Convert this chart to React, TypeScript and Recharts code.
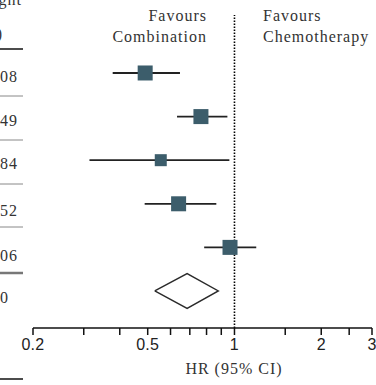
import React from 'react';
import { ComposedChart, XAxis, YAxis, Scatter, ReferenceLine } from 'recharts';

// Study rows (top to bottom)
const rowPos = [6, 5, 4, 3, 2];
const hrValues = [0.49, 0.765, 0.555, 0.64, 0.965];
const ciLow = [0.378, 0.632, 0.314, 0.488, 0.785];
const ciHigh = [0.647, 0.945, 0.96, 0.865, 1.19];
const weightLabels = ['20.08', '23.49', '10.84', '20.52', '23.06'];
const squareSizes = [15, 15, 12, 15, 15];

// Pooled estimate
const pooledPos = 1;
const pooled = { hr: 0.685, lo: 0.529, hi: 0.879 };
const totalLabel = '100';

const xTicks = [0.2, 0.3, 0.4, 0.5, 0.6, 0.7, 0.8, 0.9, 1, 1.5, 2, 2.5, 3];
const xTickLabels = [0.2, 0.5, 1, 2, 3];

const studies = rowPos.map((y, i) => ({
  x: hrValues[i],
  y,
  lo: ciLow[i],
  hi: ciHigh[i],
  size: squareSizes[i],
  w: weightLabels[i],
}));

const diamondHalf = 0.4;
const diamond = [
  { x: pooled.lo, y: pooledPos },
  { x: pooled.hr, y: pooledPos + diamondHalf },
  { x: pooled.hi, y: pooledPos },
  { x: pooled.hr, y: pooledPos - diamondHalf },
  { x: pooled.lo, y: pooledPos },
];

const SQ = '#3c5d6b';
const serif = '"Liberation Serif", "Times New Roman", serif';
const sans = '"Liberation Sans", Arial, sans-serif';

const Square = (props: any) => {
  const { cx, cy, payload } = props;
  const s = payload.size;
  return <rect x={cx - s / 2} y={cy - s / 2} width={s} height={s} fill={SQ} />;
};

const Tick = (props: any) => {
  const { x, y, payload } = props;
  if (!xTickLabels.includes(payload.value)) return <g />;
  return (
    <text x={x} y={y} dy={13} textAnchor="middle" fontFamily={sans} fontSize={16} fill="#222" letterSpacing={0.3}>
      {String(payload.value)}
    </text>
  );
};

export default function App() {
  const W = 376;
  const H = 385;
  const baselines = [82, 126, 169, 216, 261];
  return (
    <div style={{ position: 'absolute', left: 0, top: 0, width: W, height: H, background: '#fff' }}>
      <ComposedChart width={W} height={H} margin={{ top: 0, right: 4, bottom: 0, left: 33 }}>
        <XAxis
          type="number"
          dataKey="x"
          scale="log"
          domain={[0.2, 3]}
          allowDataOverflow
          ticks={xTicks}
          interval={0}
          tick={<Tick />}
          tickSize={7}
          tickLine={{ stroke: '#111', strokeWidth: 1.5 }}
          axisLine={{ stroke: '#111', strokeWidth: 1.5 }}
          height={57}
        />
        <YAxis type="number" dataKey="y" domain={[0.151, 7.674]} hide allowDataOverflow />
        <ReferenceLine
          segment={[{ x: 1, y: 0.151 }, { x: 1, y: 7.33 }]}
          stroke="#000"
          strokeWidth={1.6}
          strokeDasharray="1.5 1.5"
        />
        {studies.map((s, i) => (
          <ReferenceLine
            key={i}
            segment={[{ x: s.lo, y: s.y }, { x: s.hi, y: s.y }]}
            stroke="#222"
            strokeWidth={1.8}
          />
        ))}
        <Scatter data={studies} shape={<Square />} isAnimationActive={false} />
        <Scatter
          data={diamond}
          line={{ stroke: '#2a2a2a', strokeWidth: 1.4 }}
          lineType="joint"
          shape={() => <g />}
          isAnimationActive={false}
        />
      </ComposedChart>
      <svg width={W} height={H} style={{ position: 'absolute', left: 0, top: 0, pointerEvents: 'none' }}>
        <g fontFamily={serif} fontSize={16} fill="#333" letterSpacing={1}>
          <text x={22} y={5} textAnchor="end">Weight</text>
          <text x={3} y={39} textAnchor="end">(%)</text>
          {studies.map((s, i) => (
            <text key={i} x={18} y={baselines[i]} textAnchor="end">{s.w}</text>
          ))}
          <text x={9} y={303} textAnchor="end">{totalLabel}</text>
          <text x={207} y={21} textAnchor="end">Favours</text>
          <text x={207} y={42} textAnchor="end">Combination</text>
          <text x={263} y={21}>Favours</text>
          <text x={263} y={42}>Chemotherapy</text>
          <text x={234} y={374} textAnchor="middle">HR (95% CI)</text>
        </g>
        <line x1={0} x2={23} y1={49} y2={49} stroke="#111" strokeWidth={1.5} />
        <line x1={0} x2={23} y1={96} y2={96} stroke="#888" strokeWidth={1} />
        <line x1={0} x2={23} y1={140} y2={140} stroke="#888" strokeWidth={1} />
        <line x1={0} x2={23} y1={184} y2={184} stroke="#888" strokeWidth={1} />
        <line x1={0} x2={23} y1={227} y2={227} stroke="#888" strokeWidth={1} />
        <line x1={0} x2={23} y1={273} y2={273} stroke="#777" strokeWidth={2.5} />
        <line x1={0} x2={23} y1={379} y2={379} stroke="#111" strokeWidth={1.5} />
      </svg>
    </div>
  );
}
